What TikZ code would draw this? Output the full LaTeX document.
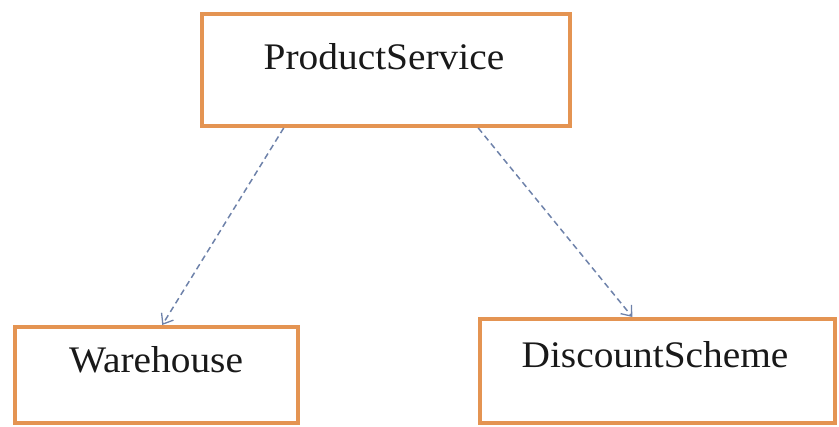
\documentclass[tikz,border=0pt]{standalone}
\usepackage{fontspec}
\setmainfont{Liberation Serif}[FakeStretch=1.05]
\usetikzlibrary{arrows.meta,calc}
\definecolor{boxorange}{RGB}{228,148,82}
\definecolor{depblue}{RGB}{110,130,170}
\tikzset{
  classbox/.style={draw=boxorange, line width=4pt, rectangle, inner sep=0pt, fill=white},
  classname/.style={anchor=base, inner sep=0pt, font=\fontsize{37.5}{40}\selectfont, text=black!90},
  dep/.style={draw=depblue, line width=1.5pt, dash pattern=on 6pt off 4pt,
    -{Straight Barb[length=9pt,width=14pt,line width=1.3pt]}}
}
\begin{document}
\begin{tikzpicture}[x=1pt,y=-1pt]
\useasboundingbox (0,0) rectangle (839,427);
\node[classbox, minimum width=368pt, minimum height=112pt] (ps) at (386,70) {};
\node[classbox, minimum width=283pt, minimum height=96pt] (wh) at (156.5,375) {};
\node[classbox, minimum width=355pt, minimum height=104pt] (ds) at (657.5,371) {};
\node[classname] (pst) at (384,70) {ProductService};
\node[classname] (wht) at (156,373) {Warehouse};
\node[classname] (dst) at (655,368) {DiscountScheme};
\draw[dep] ($(ps.south west)!0.225!(ps.south east)$) -- ($(wh.north west)!0.52!(wh.north east)$);
\draw[dep] ($(ps.south west)!0.748!(ps.south east)$) -- ($(ds.north west)!0.43!(ds.north east)$);
\end{tikzpicture}
\end{document}
